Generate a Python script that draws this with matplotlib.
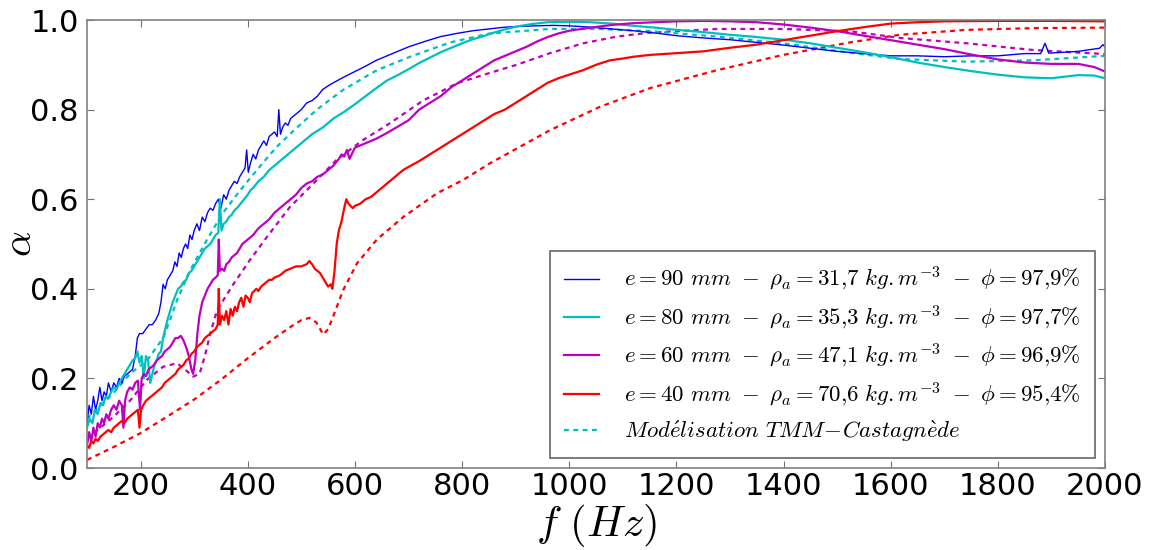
import matplotlib
matplotlib.use("Agg")
import matplotlib.pyplot as plt

plt.rcParams['mathtext.fontset'] = 'cm'

# ---------------- data ----------------
f_e90 = [100, 104, 108, 112, 116, 120, 124, 128, 132, 136, 140, 145, 150, 155, 160, 165, 170, 175,
         180, 185, 190, 194, 198, 204, 210, 216, 222, 228, 234, 238, 242, 246, 250, 255, 260, 264,
         268, 272, 276, 280, 284, 288, 292, 296, 300, 305, 310, 315, 320, 325, 330, 335, 340, 345,
         350, 355, 360, 365, 370, 375, 380, 385, 390, 395, 398, 401, 405, 410, 415, 420, 425, 430,
         435, 440, 445, 450, 455, 458, 461, 465, 470, 475, 480, 490, 500, 510, 520, 530, 540, 550,
         560, 580, 600, 620, 640, 660, 680, 700, 730, 760, 790, 820, 850, 880, 910, 940, 970, 1000,
         1040, 1080, 1120, 1160, 1200, 1250, 1300, 1350, 1400, 1450, 1500, 1550, 1600, 1650, 1700,
         1750, 1800, 1850, 1880, 1888, 1895, 1950, 1990, 1996, 2000]
a_e90 = [0.10, 0.14, 0.12, 0.16, 0.13, 0.15, 0.18, 0.15, 0.17, 0.16, 0.19, 0.17, 0.19, 0.18, 0.20,
         0.19, 0.205, 0.21, 0.215, 0.22, 0.25, 0.29, 0.30, 0.30, 0.31, 0.32, 0.32, 0.33, 0.345, 0.37,
         0.41, 0.40, 0.42, 0.43, 0.44, 0.46, 0.45, 0.48, 0.47, 0.49, 0.50, 0.49, 0.52, 0.51, 0.53,
         0.545, 0.53, 0.56, 0.55, 0.57, 0.58, 0.575, 0.59, 0.60, 0.58, 0.61, 0.60, 0.62, 0.63, 0.64,
         0.635, 0.65, 0.66, 0.67, 0.71, 0.66, 0.68, 0.70, 0.69, 0.71, 0.72, 0.73, 0.72, 0.74, 0.745,
         0.75, 0.74, 0.80, 0.745, 0.76, 0.77, 0.765, 0.78, 0.79, 0.80, 0.815, 0.82, 0.83, 0.845,
         0.853, 0.86, 0.873, 0.885, 0.897, 0.91, 0.92, 0.93, 0.94, 0.952, 0.963, 0.97, 0.976, 0.98,
         0.984, 0.986, 0.987, 0.988, 0.987, 0.984, 0.98, 0.976, 0.971, 0.965, 0.96, 0.956, 0.95,
         0.944, 0.937, 0.93, 0.925, 0.92, 0.92, 0.918, 0.92, 0.92, 0.925, 0.925, 0.948, 0.926, 0.93,
         0.937, 0.945, 0.94]

f_e80 = [100, 105, 110, 115, 120, 125, 130, 135, 140, 145, 150, 155, 160, 165, 170, 175, 180, 185,
         190, 194, 198, 202, 206, 210, 214, 218, 222, 226, 230, 234, 238, 242, 246, 250, 255, 260,
         265, 270, 275, 280, 285, 290, 295, 300, 305, 310, 315, 320, 325, 330, 335, 340, 345, 348,
         351, 355, 360, 365, 370, 375, 380, 390, 400, 405, 410, 420, 430, 440, 450, 460, 470, 480,
         490, 500, 520, 540, 560, 580, 600, 620, 640, 660, 680, 700, 720, 740, 760, 780, 800, 820,
         840, 860, 880, 900, 930, 960, 1000, 1040, 1080, 1120, 1160, 1200, 1250, 1300, 1350, 1400,
         1450, 1500, 1550, 1600, 1650, 1700, 1750, 1800, 1850, 1900, 1950, 1980, 2000]
a_e80 = [0.09, 0.11, 0.10, 0.13, 0.12, 0.145, 0.14, 0.16, 0.155, 0.17, 0.18, 0.175, 0.19, 0.20,
         0.21, 0.22, 0.23, 0.24, 0.245, 0.26, 0.235, 0.25, 0.20, 0.25, 0.24, 0.19, 0.21, 0.23, 0.24,
         0.255, 0.26, 0.29, 0.31, 0.33, 0.35, 0.37, 0.385, 0.40, 0.405, 0.415, 0.42, 0.435, 0.44,
         0.45, 0.46, 0.47, 0.48, 0.49, 0.495, 0.50, 0.51, 0.52, 0.525, 0.60, 0.53, 0.545, 0.55, 0.56,
         0.565, 0.575, 0.58, 0.595, 0.61, 0.62, 0.625, 0.64, 0.65, 0.665, 0.675, 0.685, 0.695, 0.705,
         0.715, 0.725, 0.745, 0.76, 0.78, 0.795, 0.812, 0.83, 0.848, 0.865, 0.877, 0.89, 0.904,
         0.916, 0.928, 0.938, 0.948, 0.957, 0.964, 0.972, 0.979, 0.985, 0.991, 0.995, 0.996, 0.995,
         0.992, 0.987, 0.983, 0.978, 0.973, 0.967, 0.962, 0.956, 0.948, 0.938, 0.928, 0.917, 0.905,
         0.895, 0.886, 0.878, 0.872, 0.870, 0.877, 0.876, 0.870]

f_e60 = [100, 104, 108, 112, 116, 120, 124, 128, 132, 136, 140, 145, 150, 155, 160, 165, 168, 171,
         175, 180, 185, 190, 195, 199, 202, 206, 210, 215, 220, 225, 230, 235, 240, 245, 250, 255,
         260, 265, 270, 275, 280, 285, 290, 295, 298, 302, 306, 310, 315, 320, 325, 330, 335, 340,
         344, 346, 348, 352, 356, 360, 365, 370, 375, 380, 385, 390, 395, 400, 410, 420, 430, 440,
         450, 460, 470, 480, 490, 500, 510, 520, 530, 540, 550, 560, 570, 575, 580, 585, 590, 600,
         620, 640, 660, 680, 700, 720, 740, 760, 780, 800, 820, 840, 860, 880, 900, 920, 940, 960,
         980, 1000, 1040, 1080, 1120, 1160, 1200, 1250, 1300, 1350, 1400, 1450, 1500, 1550, 1600,
         1650, 1700, 1750, 1800, 1850, 1900, 1950, 1980, 2000]
a_e60 = [0.05, 0.08, 0.06, 0.09, 0.07, 0.10, 0.09, 0.11, 0.10, 0.12, 0.11, 0.13, 0.14, 0.13, 0.15,
         0.14, 0.09, 0.15, 0.17, 0.18, 0.175, 0.19, 0.195, 0.13, 0.20, 0.21, 0.205, 0.22, 0.225, 0.23,
         0.24, 0.245, 0.25, 0.26, 0.265, 0.27, 0.28, 0.29, 0.29, 0.295, 0.285, 0.27, 0.25, 0.22, 0.21,
         0.24, 0.30, 0.34, 0.37, 0.385, 0.40, 0.41, 0.42, 0.425, 0.43, 0.51, 0.44, 0.445, 0.44, 0.455,
         0.46, 0.47, 0.475, 0.48, 0.49, 0.50, 0.505, 0.51, 0.52, 0.535, 0.545, 0.555, 0.57, 0.58,
         0.59, 0.60, 0.61, 0.625, 0.635, 0.64, 0.65, 0.655, 0.665, 0.675, 0.69, 0.70, 0.695, 0.71,
         0.69, 0.715, 0.725, 0.735, 0.748, 0.762, 0.776, 0.80, 0.815, 0.83, 0.85, 0.865, 0.88, 0.895,
         0.91, 0.92, 0.93, 0.94, 0.952, 0.962, 0.97, 0.976, 0.983, 0.989, 0.993, 0.995, 0.997, 0.998,
         0.997, 0.995, 0.99, 0.983, 0.975, 0.965, 0.955, 0.945, 0.935, 0.923, 0.912, 0.905, 0.902,
         0.902, 0.895, 0.885]

f_e40 = [100, 104, 108, 112, 116, 120, 125, 130, 135, 140, 145, 150, 155, 160, 165, 170, 175, 180,
         185, 190, 195, 198, 201, 205, 210, 215, 220, 225, 230, 235, 240, 245, 250, 255, 260, 265,
         270, 275, 280, 285, 290, 295, 300, 305, 310, 315, 320, 325, 330, 335, 340, 344, 346, 348,
         352, 356, 360, 364, 368, 372, 376, 380, 384, 388, 392, 396, 400, 404, 408, 412, 416, 420,
         425, 430, 435, 440, 445, 450, 460, 470, 480, 490, 500, 510, 515, 520, 525, 530, 535, 540,
         545, 550, 555, 558, 562, 566, 570, 575, 580, 584, 588, 592, 596, 600, 610, 620, 630, 640,
         650, 660, 670, 680, 690, 700, 720, 740, 760, 780, 800, 820, 840, 860, 880, 900, 920, 940,
         960, 980, 1000, 1026, 1050, 1076, 1100, 1120, 1150, 1200, 1250, 1300, 1350, 1400, 1450,
         1500, 1550, 1600, 1650, 1700, 1800, 1900, 2000]
a_e40 = [0.05, 0.045, 0.06, 0.055, 0.065, 0.06, 0.07, 0.075, 0.08, 0.085, 0.08, 0.09, 0.095, 0.10,
         0.105, 0.10, 0.11, 0.115, 0.12, 0.125, 0.13, 0.09, 0.13, 0.14, 0.15, 0.155, 0.16, 0.165,
         0.17, 0.175, 0.18, 0.19, 0.195, 0.20, 0.205, 0.21, 0.22, 0.225, 0.23, 0.24, 0.245, 0.255,
         0.26, 0.27, 0.275, 0.28, 0.29, 0.295, 0.30, 0.305, 0.31, 0.32, 0.40, 0.32, 0.34, 0.33, 0.35,
         0.32, 0.355, 0.34, 0.36, 0.35, 0.37, 0.38, 0.36, 0.385, 0.38, 0.37, 0.39, 0.395, 0.40, 0.395,
         0.405, 0.41, 0.415, 0.42, 0.42, 0.425, 0.43, 0.44, 0.445, 0.45, 0.45, 0.455, 0.462, 0.455,
         0.445, 0.44, 0.435, 0.425, 0.415, 0.405, 0.41, 0.40, 0.44, 0.50, 0.53, 0.55, 0.58, 0.60,
         0.59, 0.585, 0.58, 0.585, 0.59, 0.60, 0.605, 0.615, 0.625, 0.635, 0.645, 0.655, 0.665,
         0.672, 0.685, 0.70, 0.715, 0.73, 0.745, 0.76, 0.775, 0.79, 0.80, 0.815, 0.83, 0.845, 0.86,
         0.87, 0.878, 0.888, 0.90, 0.91, 0.914, 0.918, 0.922, 0.926, 0.93, 0.938, 0.945, 0.955,
         0.965, 0.975, 0.984, 0.992, 0.995, 0.997, 0.998, 0.998, 0.997]

# model curves (TMM-Castagnede)
fm_e80 = [100, 149, 180, 212, 242, 255, 268, 292, 324, 354, 386, 417, 454, 492, 529, 578, 641, 703,
          778, 852, 964, 1057, 1151, 1276, 1399, 1524, 1617, 1742, 1866, 2000]
am_e80 = [0.11, 0.167, 0.21, 0.24, 0.29, 0.33, 0.375, 0.44, 0.51, 0.57, 0.62, 0.665, 0.717, 0.76,
          0.80, 0.844, 0.888, 0.918, 0.95, 0.97, 0.98, 0.98, 0.975, 0.963, 0.948, 0.927, 0.913,
          0.907, 0.91, 0.92]

fm_e60 = [100, 150, 180, 212, 242, 268, 283, 298, 310, 320, 330, 343, 373, 404, 436, 479, 516, 566,
          615, 666, 727, 791, 852, 902, 964, 1026, 1089, 1151, 1276, 1399, 1524, 1617, 1742, 1866,
          2000]
am_e60 = [0.065, 0.115, 0.15, 0.197, 0.226, 0.234, 0.22, 0.204, 0.21, 0.25, 0.30, 0.353, 0.41,
          0.464, 0.516, 0.583, 0.627, 0.688, 0.732, 0.77, 0.82, 0.859, 0.882, 0.90, 0.926, 0.948,
          0.963, 0.972, 0.98, 0.98, 0.975, 0.96, 0.948, 0.933, 0.924]

fm_e40 = [100, 150, 200, 250, 300, 350, 400, 450, 480, 500, 515, 528, 541, 550, 560, 578, 604, 641,
          690, 753, 802, 852, 964, 1057, 1151, 1276, 1399, 1524, 1617, 1742, 1870, 2000]
am_e40 = [0.018, 0.047, 0.078, 0.115, 0.153, 0.197, 0.245, 0.29, 0.315, 0.33, 0.335, 0.325, 0.298,
          0.31, 0.34, 0.397, 0.457, 0.51, 0.56, 0.613, 0.643, 0.68, 0.754, 0.806, 0.848, 0.888,
          0.922, 0.95, 0.967, 0.978, 0.982, 0.983]

labels = [r'$e=90\ mm\ -\ \rho_a=31{,}7\ kg{.}m^{-3}\ -\ \phi=97{,}9\%$',
          r'$e=80\ mm\ -\ \rho_a=35{,}3\ kg{.}m^{-3}\ -\ \phi=97{,}7\%$',
          r'$e=60\ mm\ -\ \rho_a=47{,}1\ kg{.}m^{-3}\ -\ \phi=96{,}9\%$',
          r'$e=40\ mm\ -\ \rho_a=70{,}6\ kg{.}m^{-3}\ -\ \phi=95{,}4\%$',
          r'$Mod\acute{e}lisation\ TMM\!-\!Castagn\grave{e}de$']
x_ticks = [200, 400, 600, 800, 1000, 1200, 1400, 1600, 1800, 2000]
y_ticks = [0.0, 0.2, 0.4, 0.6, 0.8, 1.0]

# ---------------- figure ----------------
fig = plt.figure(figsize=(11.59, 5.5), dpi=100)
ax = fig.add_axes([87/1159, (550-468)/550, (1105-87)/1159, 448/550])

dash = (2.2, 2.0)
ax.plot(fm_e40, am_e40, color='r', lw=1.6, dashes=dash)
ax.plot(fm_e60, am_e60, color='m', lw=1.6, dashes=dash)
ax.plot(fm_e80, am_e80, color='c', lw=1.6, dashes=dash)
l1, = ax.plot(f_e90, a_e90, color='b', lw=1.0, label=labels[0])
l2, = ax.plot(f_e80, a_e80, color='c', lw=1.6, label=labels[1])
l3, = ax.plot(f_e60, a_e60, color='m', lw=1.6, label=labels[2])
l4, = ax.plot(f_e40, a_e40, color='r', lw=1.6, label=labels[3])
l5, = ax.plot([], [], color='c', lw=1.6, dashes=dash, label=labels[4])

ax.set_xlim(100, 2000)
ax.set_ylim(0, 1)
ax.set_xticks(x_ticks)
ax.set_yticks(y_ticks)
ax.set_yticklabels(['%.1f' % v for v in y_ticks])
ax.tick_params(direction='in', length=5, width=0.8, color='0.45', labelsize=22,
               top=True, right=True, pad=6)
ax.tick_params(axis='x', pad=3)
for s in ax.spines.values():
    s.set_color('0.5')
    s.set_linewidth(1.2)

ax.set_xlabel(r'$f\ (Hz)$', fontsize=31)
ax.xaxis.set_label_coords(0.5, -0.076)
ax.set_ylabel(r'$\alpha$', fontsize=29)
ax.yaxis.set_label_coords(-0.046, 0.5)

leg = ax.legend(handles=[l1, l2, l3, l4, l5], loc='lower right',
                bbox_to_anchor=(0.99, 0.022), borderaxespad=0, fontsize=16.5,
                fancybox=False, framealpha=1, edgecolor='0.4',
                handlelength=1.5, handletextpad=1.1, labelspacing=0.45, borderpad=0.62)
leg.get_frame().set_linewidth(1.2)

fig.savefig('out.png', dpi=100)
